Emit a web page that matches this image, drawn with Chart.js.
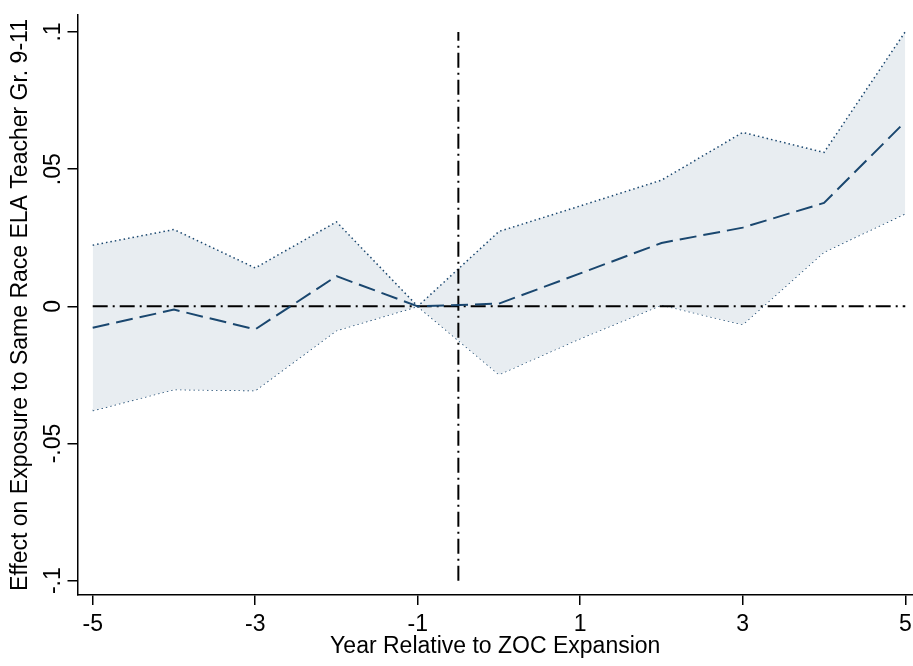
<!DOCTYPE html>
<html>
<head>
<meta charset="utf-8">
<script src="https://cdn.jsdelivr.net/npm/chart.js@4.4.1/dist/chart.umd.min.js"></script>
<style>
  html, body { margin: 0; padding: 0; background: #ffffff; }
  #wrap { width: 913px; height: 666px; }
</style>
</head>
<body>
<div id="wrap"><canvas id="grafico" width="913" height="666"></canvas></div>
<script>
// Datos
const years = [-5, -4, -3, -2, -1, 0, 1, 2, 3, 4, 5];
const estimate = [-0.0078, -0.0012, -0.0084, 0.011, 0, 0.001, 0.012, 0.0231, 0.0287, 0.0377, 0.0673];
const upperCI = [0.0223, 0.028, 0.014, 0.0308, 0, 0.0273, 0.0366, 0.046, 0.0634, 0.0561, 0.1001];
const lowerCI = [-0.038, -0.0303, -0.0307, -0.0088, 0, -0.0248, -0.0117, 0.0005, -0.0066, 0.0198, 0.0338];

const xTicks = [-5, -3, -1, 1, 3, 5];
const yTicks = [-0.1, -0.05, 0, 0.05, 0.1];
const yTickLabels = ['-.1', '-.05', '0', '.05', '.1'];

const zeroLineX = [-5, 5];
const eventYear = -0.5;
const eventLineY = [-0.1, 0.1];

const navy = '#1a476f';
const fuente = { family: '"Liberation Sans", Arial, Helvetica, sans-serif', size: 23 };

function puntos(xs, ys) {
    return xs.map((x, i) => ({ x: x, y: ys[i] }));
}

const ctx = document.getElementById('grafico').getContext('2d');

new Chart(ctx, {
    type: 'line',
    data: {
        datasets: [
            {
                label: 'Estimate',
                data: puntos(years, estimate),
                borderColor: navy,
                borderWidth: 2,
                borderDash: [17, 7],
                pointRadius: 0,
                fill: false,
                tension: 0
            },
            {
                label: 'Zero',
                data: puntos(zeroLineX, [0, 0]),
                borderColor: '#000000',
                borderWidth: 2,
                borderDash: [15, 5, 2, 5],
                pointRadius: 0,
                fill: false
            },
            {
                label: 'Event',
                data: puntos([eventYear, eventYear], eventLineY),
                borderColor: '#000000',
                borderWidth: 2,
                borderDash: [15, 5, 2, 5],
                pointRadius: 0,
                fill: false
            },
            {
                label: 'Upper',
                data: puntos(years, upperCI),
                borderColor: navy,
                borderWidth: 1.5,
                borderDash: [1.5, 3],
                backgroundColor: '#e8edf1',
                pointRadius: 0,
                fill: '+1',
                tension: 0
            },
            {
                label: 'Lower',
                data: puntos(years, lowerCI),
                borderColor: navy,
                borderWidth: 1.5,
                borderDash: [1.5, 3],
                pointRadius: 0,
                fill: false,
                tension: 0
            }
        ]
    },
    options: {
        responsive: false,
        animation: false,
        layout: { padding: { top: 15, right: 0, bottom: 0, left: 0 } },
        plugins: {
            legend: { display: false },
            tooltip: { enabled: false }
        },
        scales: {
            x: {
                type: 'linear',
                min: -5.187,
                max: 5.095,
                afterBuildTicks: (scale) => { scale.ticks = xTicks.map(v => ({ value: v })); },
                afterFit: (scale) => {
                    scale.height = 71;
                    scale.paddingLeft = 0;
                    scale.paddingRight = 0;
                },
                grid: {
                    display: true,
                    drawOnChartArea: false,
                    drawTicks: true,
                    tickLength: 10,
                    color: '#000000',
                    lineWidth: 1.5
                },
                border: { display: true, color: '#000000', width: 1.5 },
                ticks: {
                    color: '#000000',
                    font: fuente,
                    padding: 6,
                    maxRotation: 0,
                    callback: (v) => String(v)
                },
                title: {
                    display: true,
                    text: 'Year Relative to ZOC Expansion',
                    color: '#000000',
                    font: fuente,
                    padding: { top: 0, bottom: 6 }
                }
            },
            y: {
                type: 'linear',
                min: -0.10522,
                max: 0.1062,
                afterBuildTicks: (scale) => { scale.ticks = yTicks.map(v => ({ value: v })); },
                afterFit: (scale) => {
                    scale.width = 77.5;
                    scale.paddingTop = 0;
                    scale.paddingBottom = 0;
                },
                grid: {
                    display: true,
                    drawOnChartArea: false,
                    drawTicks: true,
                    tickLength: 10,
                    color: '#000000',
                    lineWidth: 1.5
                },
                border: { display: true, color: '#000000', width: 1.5 },
                ticks: {
                    color: '#000000',
                    font: fuente,
                    padding: -6,
                    minRotation: 90,
                    maxRotation: 90,
                    crossAlign: 'center',
                    callback: (v) => {
                        const i = yTicks.findIndex(t => Math.abs(t - v) < 1e-9);
                        return i >= 0 ? yTickLabels[i] : '';
                    }
                },
                title: {
                    display: true,
                    text: 'Effect on Exposure to Same Race ELA Teacher Gr. 9-11',
                    color: '#000000',
                    font: fuente,
                    padding: { top: 7, bottom: 0 }
                }
            }
        }
    }
});
</script>
</body>
</html>
